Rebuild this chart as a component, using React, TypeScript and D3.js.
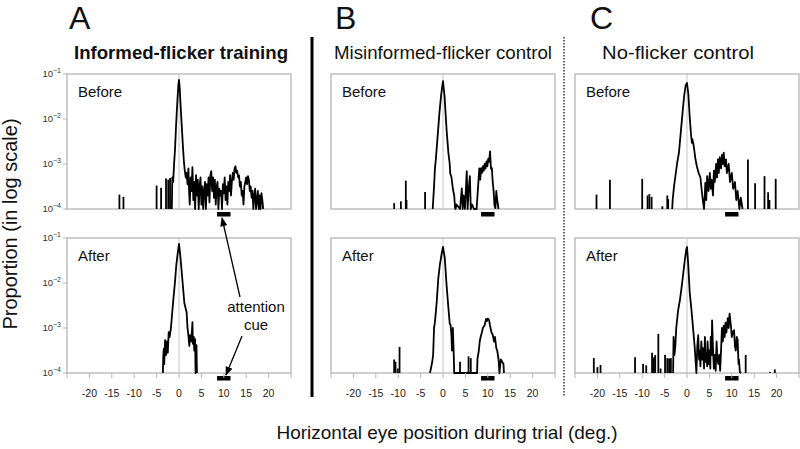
import React from 'react';
import * as d3 from 'd3';

// layout of the 3 x 2 grid of histograms
const W = 800;
const H = 449;
const PANEL_W = 224;
const PANEL_H = 135;
const PANEL_LEFT = [67, 331, 575];
const ROW_TOP = [74, 238];

const panelLetters = ['A', 'B', 'C'];
const panelTitles = ['Informed-flicker training', 'Misinformed-flicker control', 'No-flicker control'];
const rowLabels = ['Before', 'After'];
const xTicks = [-25, -20, -15, -10, -5, 0, 5, 10, 15, 20, 25];
const xTickLabels = [-20, -15, -10, -5, 0, 5, 10, 15, 20];
const yTickExps = [-1, -2, -3, -4];
const cueRange = [8.5, 11.5];

// [deg, log10 proportion]; -4 is the floor of the plot
const aBeforeTrace: [number, number][] = [
  [-1.6, -4], [-1.5, -3.3], [-1.3, -3.4], [-1.1, -3.0], [-0.9, -2.7], [-0.7, -2.25], [-0.5, -1.85],
  [-0.3, -1.5], [-0.15, -1.25], [0, -1.13], [0.15, -1.3], [0.3, -1.6], [0.5, -1.95], [0.7, -2.3],
  [0.9, -2.65], [1.1, -2.95], [1.3, -3.15], [1.5, -3.3], [1.7, -3.2], [1.9, -3.45], [2.1, -3.1],
  [2.2, -3.5], [2.4, -3.9], [2.6, -3.3], [2.8, -3.6], [3.0, -3.07], [3.2, -3.8], [3.4, -3.4],
  [3.6, -4], [3.8, -3.25], [4.0, -3.7], [4.2, -3.35], [4.4, -4], [4.6, -3.5], [4.8, -3.3],
  [5.0, -3.9], [5.2, -3.5], [5.4, -4], [5.6, -3.6], [5.8, -3.4], [6.0, -4], [6.2, -3.45],
  [6.4, -3.7], [6.6, -3.3], [6.8, -3.85], [7.0, -3.25], [7.2, -3.16], [7.4, -3.6], [7.6, -3.3],
  [7.8, -3.75], [8.0, -3.35], [8.2, -3.9], [8.4, -3.5], [8.6, -3.4], [8.8, -4], [9.0, -3.55],
  [9.2, -3.7], [9.4, -3.6], [9.6, -4], [9.8, -3.45], [10.0, -3.65], [10.2, -3.3], [10.4, -3.8],
  [10.6, -3.5], [10.8, -3.9], [11.0, -3.4], [11.2, -3.6], [11.4, -3.25], [11.6, -3.7], [11.8, -3.4],
  [12.0, -3.2], [12.2, -3.35], [12.4, -3.1], [12.6, -3.05], [12.8, -3.2], [13.0, -3.15], [13.2, -3.3],
  [13.4, -3.25], [13.6, -3.5], [13.8, -3.4], [14.0, -3.7], [14.2, -3.6], [14.4, -3.9], [14.6, -3.5],
  [14.8, -3.4], [15.0, -3.3], [15.2, -3.45], [15.4, -3.27], [15.6, -3.35], [15.8, -3.6], [16.0, -3.5],
  [16.2, -3.75], [16.4, -3.6], [16.6, -4], [16.8, -3.7], [17.0, -3.55], [17.2, -4], [17.4, -3.8],
  [17.6, -3.6], [17.8, -4], [18.0, -3.7], [18.2, -4], [18.4, -3.65], [18.6, -3.8], [18.8, -4],
];
const aBeforeSpikes: [number, number][] = [
  [-13.3, -3.68], [-12.4, -3.73], [-5.0, -3.48], [-4.0, -3.53], [-2.9, -3.32], [-2.4, -3.35], [-2.0, -3.31],
];

const aAfterTrace: [number, number][] = [
  [-3.6, -4], [-3.5, -3.6], [-3.4, -3.46], [-3.3, -3.8], [-3.1, -3.27], [-2.9, -3.6], [-2.7, -3.3],
  [-2.5, -3.55], [-2.3, -3.09], [-2.1, -3.2], [-1.8, -3.0], [-1.5, -2.64], [-1.2, -2.3], [-0.9, -1.98],
  [-0.6, -1.6], [-0.3, -1.35], [0, -1.13], [0.3, -1.4], [0.6, -1.75], [0.9, -2.1], [1.2, -2.45],
  [1.5, -2.57], [1.7, -2.65], [1.9, -3.0], [2.1, -3.16], [2.3, -3.4], [2.5, -3.16], [2.7, -3.3],
  [2.9, -3.05], [3.0, -2.87], [3.1, -3.35], [3.3, -3.2], [3.4, -3.5], [3.6, -3.25], [3.7, -4],
  [3.9, -3.38], [4.0, -4],
];
const aAfterSpikes: [number, number][] = [];

const bBeforeTrace: [number, number][] = [
  [-2.3, -4], [-2.0, -3.5], [-1.8, -3.1], [-1.6, -2.9], [-1.2, -2.39], [-0.8, -1.87], [-0.4, -1.45],
  [0, -1.16], [0.35, -1.5], [0.8, -2.24], [1.2, -2.75], [1.5, -3.0], [1.6, -3.2], [1.9, -3.3],
  [2.2, -3.55], [2.5, -3.7], [2.7, -3.98], [2.8, -4], [3.0, -3.9], [3.4, -3.95], [3.8, -4],
  [4.2, -3.54], [4.4, -4], [4.6, -3.7], [4.9, -4], [5.3, -3.16], [5.5, -4], [5.7, -3.6],
  [6.0, -3.27], [6.2, -4], [6.5, -3.9], [6.9, -4], [7.5, -4], [7.9, -3.4], [8.1, -3.1],
  [8.3, -3.35], [8.5, -3.09], [8.7, -3.2], [8.9, -3.05], [9.1, -3.15], [9.3, -3.0], [9.5, -3.1],
  [9.7, -2.94], [9.9, -3.05], [10.1, -2.88], [10.3, -2.95], [10.5, -2.72], [10.7, -3.1], [10.9, -3.09],
  [11.1, -3.4], [11.3, -3.6], [11.5, -3.93], [11.7, -3.98], [11.9, -3.6], [12.1, -3.8], [12.4, -4],
];
const bBeforeSpikes: [number, number][] = [
  [-10.9, -3.87], [-9.4, -3.83], [-8.3, -3.37], [-8.15, -3.8], [-4.0, -3.62],
];

const bAfterTrace: [number, number][] = [
  [-2.9, -4], [-2.7, -3.9], [-2.4, -3.75], [-2.2, -3.6], [-2.0, -3.0], [-1.8, -2.87], [-1.4, -2.42],
  [-1.05, -1.9], [-0.7, -1.6], [-0.3, -1.35], [0, -1.2], [0.4, -1.45], [0.8, -2.05], [1.2, -2.55],
  [1.5, -2.9], [1.7, -2.94], [1.9, -3.2], [2.0, -3.5], [2.2, -3.0], [2.4, -3.6], [2.5, -4],
  [7.6, -4], [7.7, -3.68], [8.0, -3.5], [8.2, -3.3], [8.4, -3.2], [8.7, -3.09], [8.9, -3.0],
  [9.3, -2.94], [9.6, -2.8], [9.8, -2.85], [10.0, -2.79], [10.3, -2.83], [10.5, -2.95], [10.8, -3.09],
  [11.1, -3.15], [11.4, -3.3], [11.6, -3.2], [11.9, -3.45], [12.1, -3.5], [12.4, -3.7], [12.6, -4],
  [12.9, -3.7], [13.2, -3.75], [13.5, -3.8], [13.6, -4],
];
const bAfterSpikes: [number, number][] = [
  [-10.9, -3.7], [-10.6, -3.75], [-10.1, -3.9], [-9.7, -3.42], [3.8, -3.75], [5.7, -3.63], [6.2, -3.67],
];

const cBeforeTrace: [number, number][] = [
  [-3.3, -4], [-3.2, -3.8], [-2.9, -3.5], [-2.5, -3.2], [-2.2, -2.98], [-1.8, -2.75], [-1.4, -2.31],
  [-1.0, -1.87], [-0.65, -1.5], [-0.3, -1.25], [0, -1.2], [0.3, -1.45], [0.6, -1.95], [0.9, -2.35],
  [1.1, -2.53], [1.2, -2.45], [1.5, -2.6], [1.9, -2.9], [2.2, -3.05], [2.6, -3.2], [3.0, -3.3],
  [3.4, -3.7], [3.8, -4], [4.1, -3.42], [4.3, -3.8], [4.5, -3.27], [4.8, -3.6], [5.1, -3.2],
  [5.3, -3.55], [5.5, -3.35], [5.8, -3.7], [6.0, -3.15], [6.2, -3.4], [6.5, -3.0], [6.7, -3.3],
  [6.9, -2.9], [7.1, -3.2], [7.3, -2.85], [7.6, -3.1], [7.8, -2.8], [8.0, -3.0], [8.2, -2.75],
  [8.4, -3.05], [8.7, -2.9], [8.9, -3.2], [9.3, -3.0], [9.6, -3.4], [10.0, -3.2], [10.3, -3.55],
  [10.7, -3.4], [11.0, -3.8], [11.3, -3.6], [11.7, -4], [12.0, -3.75], [12.4, -4],
];
const cBeforeSpikes: [number, number][] = [
  [-20.2, -3.68], [-17.2, -3.35], [-10.0, -3.33], [-8.8, -3.7], [-8.4, -3.67], [-7.9, -3.73],
  [-5.5, -3.94], [-4.4, -3.7], [-4.2, -3.78], [13.6, -2.9], [15.2, -3.43], [17.3, -3.27],
  [18.1, -3.63], [18.4, -3.8], [19.8, -3.33],
];

const cAfterTrace: [number, number][] = [
  [-3.1, -4], [-3.0, -3.2], [-2.8, -3.6], [-2.6, -3.4], [-2.4, -3.0], [-2.0, -2.62], [-1.6, -2.39],
  [-1.25, -2.13], [-0.9, -1.84], [-0.5, -1.5], [-0.15, -1.25], [0, -1.2], [0.25, -1.55], [0.6, -2.2],
  [0.95, -2.55], [1.3, -2.94], [1.7, -3.4], [2.1, -4], [2.3, -3.4], [2.5, -3.16], [2.7, -3.7],
  [2.8, -3.5], [3.0, -3.85], [3.2, -3.3], [3.4, -3.7], [3.6, -3.45], [3.8, -3.9], [4.0, -3.2],
  [4.2, -3.75], [4.3, -3.55], [4.5, -3.85], [4.6, -3.3], [4.8, -3.8], [5.0, -3.5], [5.2, -3.9],
  [5.3, -3.2], [5.5, -3.6], [5.6, -2.83], [5.8, -3.45], [6.0, -3.9], [6.2, -3.6], [6.4, -3.95],
  [6.6, -3.3], [6.8, -3.7], [7.0, -3.8], [7.2, -3.6], [7.4, -3.95], [7.6, -3.5], [7.8, -3.0],
  [8.0, -3.3], [8.2, -2.95], [8.4, -3.2], [8.6, -2.88], [8.8, -3.1], [9.1, -2.78], [9.3, -3.0],
  [9.5, -2.68], [9.8, -2.95], [10.0, -3.2], [10.2, -3.1], [10.5, -3.05], [10.7, -3.4], [10.9, -3.5],
  [11.1, -3.2], [11.3, -3.25], [11.5, -3.8], [11.6, -3.7], [11.8, -3.98], [12.1, -4],
];
const cAfterSpikes: [number, number][] = [
  [-20.8, -3.67], [-20.0, -3.87], [-19.3, -3.82], [-11.6, -3.65], [-9.8, -3.8], [-9.1, -3.83],
  [-7.8, -3.55], [-7.4, -3.65], [-7.1, -3.6], [-6.4, -3.13], [-5.9, -3.9], [-4.9, -3.6],
  [-4.4, -3.67], [-4.0, -3.68], [-3.6, -3.67], [13.1, -3.6], [18.5, -3.98], [19.6, -3.92],
];

const traces = [
  [aBeforeTrace, aAfterTrace],
  [bBeforeTrace, bAfterTrace],
  [cBeforeTrace, cAfterTrace],
];
const spikes = [
  [aBeforeSpikes, aAfterSpikes],
  [bBeforeSpikes, bAfterSpikes],
  [cBeforeSpikes, cAfterSpikes],
];

const FONT = 'Liberation Sans, Arial, sans-serif';
const NARROW = 'Liberation Sans Narrow, Liberation Sans, Arial, sans-serif';
const GRID = '#b5b5b5';

function Hist({ p, r }: { p: number; r: number }) {
  const left = PANEL_LEFT[p];
  const top = ROW_TOP[r];
  const x = d3.scaleLinear().domain([-25, 25]).range([left, left + PANEL_W]);
  const y = d3.scaleLog().domain([1e-4, 1e-1]).range([top + PANEL_H, top]).clamp(true);
  const line = d3.line<[number, number]>()
    .x(d => x(d[0]))
    .y(d => y(Math.pow(10, d[1])));
  const base = top + PANEL_H;

  return (
    <g>
      <rect x={left} y={top} width={PANEL_W} height={PANEL_H} fill="none" stroke={GRID} strokeWidth={1.3} />
      <line x1={x(0)} x2={x(0)} y1={top} y2={base} stroke={GRID} strokeWidth={0.8} />
      <text x={left + 11} y={top + 23} fontFamily={FONT} fontSize={15} fill="#111">{rowLabels[r]}</text>
      {spikes[p][r].map((d, i) => (
        <line key={i} x1={x(d[0])} x2={x(d[0])} y1={base} y2={y(Math.pow(10, d[1]))} stroke="#000" strokeWidth={1.8} />
      ))}
      <path d={line(traces[p][r]) || ''} fill="none" stroke="#000" strokeWidth={1.8} strokeLinejoin="round" />
      <rect x={x(cueRange[0])} y={base + 3} width={x(cueRange[1]) - x(cueRange[0])} height={4.5} fill="#000" />
      {p === 0 && yTickExps.map(e => (
        <g key={e}>
          <line x1={left - 4} x2={left} y1={y(Math.pow(10, e))} y2={y(Math.pow(10, e))} stroke={GRID} />
          <text x={left - 6} y={y(Math.pow(10, e)) + 3} textAnchor="end" fontFamily={FONT} fontSize={9.5} fill="#333">
            10<tspan dy={-4} fontSize={7}>{'\u2212' + (-e)}</tspan>
          </text>
        </g>
      ))}
      {r === 1 && xTicks.map(t => (
        <line key={t} x1={x(t)} x2={x(t)} y1={base} y2={base + 5} stroke={GRID} />
      ))}
      {r === 1 && xTickLabels.map(t => (
        <text key={t} x={x(t)} y={base + 24} textAnchor="middle" fontFamily={NARROW} fontSize={10.5} fill="#222">{t}</text>
      ))}
    </g>
  );
}

export default function App() {
  const titleX = [181, 443, 678];
  const titleW = [214, 218, 152];
  const letterX = [69, 335, 590];
  return (
    <svg width={W} height={H} style={{ position: 'absolute', left: 0, top: 0, background: '#fff' }}>
      <defs>
        <marker id="arrow" viewBox="0 0 10 10" refX={9} refY={5} markerWidth={7} markerHeight={7} orient="auto">
          <path d="M0,1 L10,5 L0,9 z" fill="#000" />
        </marker>
      </defs>
      <rect width={W} height={H} fill="#fff" />
      {panelLetters.map((l, i) => (
        <text key={l} x={letterX[i]} y={29} fontFamily={NARROW} fontSize={32} fill="#111">{l}</text>
      ))}
      {panelTitles.map((t, i) => (
        <text key={t} x={titleX[i]} y={59} textAnchor="middle" fontFamily={NARROW} fontSize={19}
          fontWeight={i === 0 ? 'bold' : 'normal'} fill="#111" textLength={titleW[i]} lengthAdjust="spacingAndGlyphs">{t}</text>
      ))}
      <line x1={312} x2={312} y1={37} y2={397} stroke="#000" strokeWidth={3} />
      <line x1={564} x2={564} y1={37} y2={397} stroke="#333" strokeWidth={1.5} strokeDasharray="1.5,1.5" />
      {[0, 1, 2].map(p => [0, 1].map(r => <Hist key={`${p}-${r}`} p={p} r={r} />))}
      <text x={256} y={312} textAnchor="middle" fontFamily={FONT} fontSize={15} fill="#111">attention</text>
      <text x={256} y={330} textAnchor="middle" fontFamily={FONT} fontSize={15} fill="#111">cue</text>
      <line x1={240} y1={297} x2={222} y2={218} stroke="#000" strokeWidth={1.3} markerEnd="url(#arrow)" />
      <line x1={242} y1={336} x2={226} y2={375} stroke="#000" strokeWidth={1.3} markerEnd="url(#arrow)" />
      <text transform="translate(17,224) rotate(-90)" textAnchor="middle" fontFamily={FONT} fontSize={20} fill="#111">
        Proportion (in log scale)
      </text>
      <text x={447} y={439} textAnchor="middle" fontFamily={FONT} fontSize={19} fill="#111">
        Horizontal eye position during trial (deg.)
      </text>
    </svg>
  );
}
